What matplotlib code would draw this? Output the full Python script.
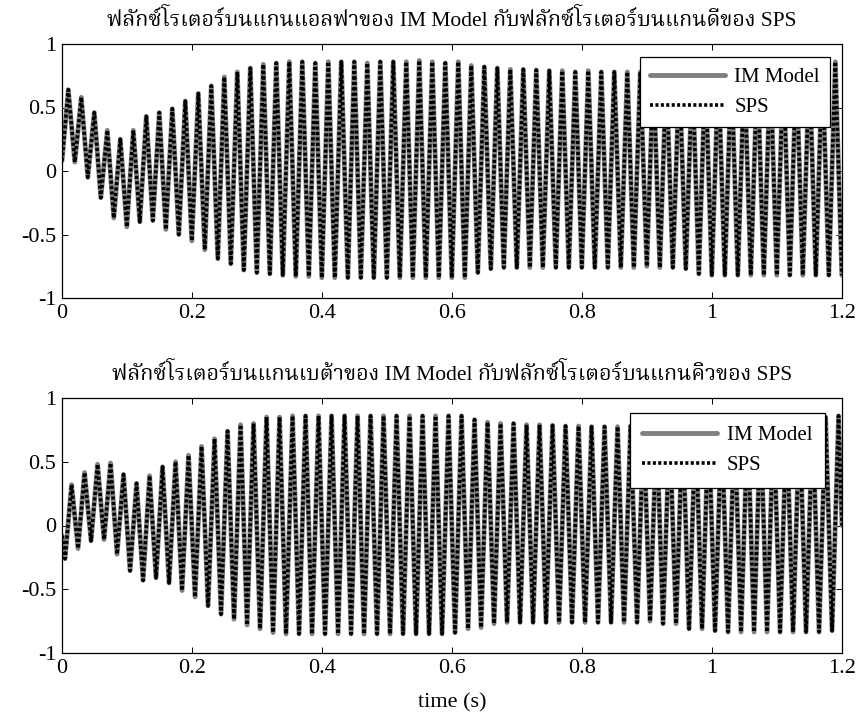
import numpy as np
import matplotlib
matplotlib.use("Agg")
import matplotlib.pyplot as plt
from matplotlib import font_manager
from matplotlib.ft2font import FT2Font

# -----------------------------------------------------------------------------
# data: one peak and one trough per 50 Hz cycle
# (values are stroke centres)
# -----------------------------------------------------------------------------
period = 0.02            # s, spacing of the peaks
n_cycles = 60

# alpha axis (IM Model) / d axis (SPS)
top_start = 0.08
top_peak_t0 = 0.0097
top_trough_t0 = 0.0197
top_peaks = [0.64, 0.58, 0.46, 0.32, 0.25, 0.32, 0.43, 0.46, 0.49, 0.55,
             0.61, 0.67, 0.74, 0.78, 0.81, 0.84, 0.85, 0.86, 0.86, 0.85,
             0.86, 0.86, 0.86, 0.85, 0.86, 0.86, 0.86, 0.87, 0.86, 0.85,
             0.86, 0.83, 0.82, 0.81, 0.80, 0.80, 0.795, 0.79, 0.79, 0.78,
             0.79, 0.78, 0.78, 0.78, 0.78, 0.78, 0.78, 0.79, 0.79, 0.80,
             0.80, 0.81, 0.81, 0.82, 0.82, 0.83, 0.83, 0.84, 0.84, 0.86]
top_troughs = [0.07, -0.05, -0.21, -0.37, -0.44, -0.40, -0.39, -0.46, -0.50, -0.55,
               -0.62, -0.69, -0.73, -0.78, -0.80, -0.81, -0.82, -0.83, -0.83, -0.84,
               -0.84, -0.84, -0.84, -0.84, -0.84, -0.84, -0.84, -0.84, -0.84, -0.84,
               -0.84, -0.80, -0.77, -0.76, -0.76, -0.76, -0.76, -0.76, -0.76, -0.76,
               -0.76, -0.76, -0.76, -0.76, -0.75, -0.76, -0.76, -0.77, -0.81, -0.82,
               -0.82, -0.82, -0.82, -0.82, -0.82, -0.82, -0.82, -0.82, -0.82, -0.82]

# beta axis (IM Model) / q axis (SPS)
bot_start = -0.08
bot_end = 0.0
bot_trough_t0 = 0.0047
bot_peak_t0 = 0.0147
bot_peaks = [0.32, 0.415, 0.48, 0.49, 0.40, 0.33, 0.39, 0.46, 0.50, 0.55,
             0.62, 0.68, 0.74, 0.79, 0.80, 0.85, 0.85, 0.86, 0.86, 0.86,
             0.86, 0.86, 0.86, 0.86, 0.86, 0.86, 0.86, 0.86, 0.86, 0.86,
             0.86, 0.83, 0.81, 0.80, 0.80, 0.79, 0.79, 0.785, 0.78, 0.78,
             0.775, 0.775, 0.775, 0.78, 0.78, 0.78, 0.79, 0.79, 0.80, 0.80,
             0.81, 0.81, 0.82, 0.82, 0.83, 0.83, 0.84, 0.84, 0.85, 0.86]
bot_troughs = [-0.26, -0.18, -0.12, -0.11, -0.225, -0.355, -0.43, -0.41, -0.45, -0.51,
               -0.56, -0.63, -0.695, -0.735, -0.78, -0.81, -0.84, -0.85, -0.85, -0.85,
               -0.85, -0.85, -0.85, -0.85, -0.85, -0.85, -0.85, -0.85, -0.85, -0.85,
               -0.84, -0.81, -0.80, -0.77, -0.76, -0.76, -0.76, -0.76, -0.76, -0.76,
               -0.76, -0.76, -0.76, -0.76, -0.76, -0.75, -0.77, -0.77, -0.81, -0.81,
               -0.825, -0.835, -0.835, -0.835, -0.835, -0.835, -0.835, -0.835, -0.835, -0.825]

titles = ["ฟลักซ์โรเตอร์บนแกนแอลฟาของ IM Model กับฟลักซ์โรเตอร์บนแกนดีของ SPS",
          "ฟลักซ์โรเตอร์บนแกนเบต้าของ IM Model กับฟลักซ์โรเตอร์บนแกนคิวของ SPS"]
series_labels = ["IM Model", "SPS"]
x_ticks = [0, 0.2, 0.4, 0.6, 0.8, 1, 1.2]
y_ticks = [-1, -0.5, 0, 0.5, 1]
x_label = "time (s)"


def thai_fonts():
    found = []
    for f in font_manager.fontManager.ttflist:
        try:
            cmap = FT2Font(f.fname).get_charmap()
        except Exception:
            continue
        if 0x0E1F in cmap and 0x0E4C in cmap and f.name not in found:
            found.append(f.name)
    found.sort(key=lambda n: (("Serif" not in n), ("Thai" not in n)))
    return found


def zigzag(start, first, second, t_first, t_second, end=None):
    """Join the per-cycle extremes into one trace, in time order."""
    k = np.arange(n_cycles)
    t = np.column_stack([t_first + period * k, t_second + period * k]).ravel()
    v = np.column_stack([first, second]).ravel()
    t = np.concatenate([[0.0], t])
    v = np.concatenate([[start], v])
    if end is not None:
        t = np.concatenate([t, [1.2]])
        v = np.concatenate([v, [end]])
    return t, v


thai = thai_fonts()
plt.rcParams["font.family"] = ["Liberation Serif"] + thai[:2] + ["DejaVu Serif"]

traces = [zigzag(top_start, top_peaks, top_troughs, top_peak_t0, top_trough_t0),
          zigzag(bot_start, bot_troughs, bot_peaks, bot_trough_t0, bot_peak_t0, bot_end)]

fig = plt.figure(figsize=(8.59, 7.18), dpi=100)
ax_top = fig.add_axes([62 / 859, 420 / 718, 780 / 859, 254 / 718])
ax_bot = fig.add_axes([62 / 859, 65 / 718, 780 / 859, 255 / 718])

legend_anchor = [(0.985, 0.949), (0.978, 0.941)]
legend_pad = [0.5, 0.6]

for i, ax in enumerate([ax_top, ax_bot]):
    t, v = traces[i]
    ax.plot(t, v, color="#808080", lw=3.5, solid_joinstyle="round",
            solid_capstyle="round", label=series_labels[0])
    ax.plot(t, v, color="black", lw=2.6, linestyle=(0, (0.85, 0.65)),
            dash_capstyle="butt", dash_joinstyle="round", label=series_labels[1])

    ax.set_xlim(0, 1.2)
    ax.set_ylim(-1, 1)
    ax.set_xticks(x_ticks)
    ax.set_xticklabels(["0", "0.2", "0.4", "0.6", "0.8", "1", "1.2"])
    ax.set_yticks(y_ticks)
    ax.set_yticklabels(["-1", "-0.5", "0", "0.5", "1"])
    ax.tick_params(direction="in", top=True, right=True, length=4, width=0.7,
                   labelsize=16, pad=4)
    for sp in ax.spines.values():
        sp.set_linewidth(0.9)
    ax.set_title(titles[i], fontsize=15.5, pad=13)

    leg = ax.legend(loc="upper right", bbox_to_anchor=legend_anchor[i],
                    fontsize=15, frameon=True, fancybox=False, framealpha=1,
                    edgecolor="black", handlelength=3.6, handletextpad=0.45,
                    labelspacing=0.5, borderpad=legend_pad[i], borderaxespad=0)
    leg.get_frame().set_linewidth(0.9)

ax_bot.set_xlabel(x_label, fontsize=16, labelpad=11)

fig.savefig("out.png", dpi=100)
